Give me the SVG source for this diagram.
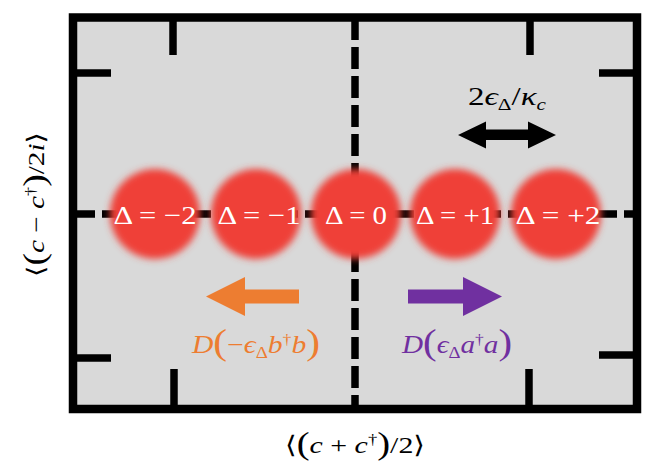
<svg xmlns="http://www.w3.org/2000/svg" width="664" height="475" viewBox="0 0 664 475">
<style>
.ln{stroke:#000;stroke-width:7.5;fill:none}
.dash{stroke:#000;stroke-width:7.5;fill:none;stroke-dasharray:22 7}
.blob{fill:#ef4037;filter:url(#blur)}
.t{font-family:"Liberation Serif","DejaVu Serif",serif}
.it{font-style:italic}
.dl{fill:#fff;font-size:26px;text-anchor:middle}
</style>
<defs>
<filter id="blur" x="-25%" y="-25%" width="150%" height="150%"><feGaussianBlur stdDeviation="3.5"/></filter>
</defs>
<rect x="0" y="0" width="664" height="475" fill="#fff"/>
<g id="plot">
<rect x="73" y="17.5" width="564" height="391.5" fill="#d9d9d9"/>
<line class="dash" x1="355" y1="18" x2="355" y2="409"/>
<line class="dash" x1="73" y1="214" x2="637" y2="214"/>
<g id="ticks">
<line class="ln" x1="173" y1="20" x2="173" y2="55"/>
<line class="ln" x1="530" y1="20" x2="530" y2="55"/>
<line class="ln" x1="174" y1="369" x2="174" y2="407"/>
<line class="ln" x1="529" y1="369" x2="529" y2="407"/>
<line class="ln" x1="75" y1="73" x2="111" y2="73"/>
<line class="ln" x1="75" y1="358" x2="111" y2="358"/>
<line class="ln" x1="599" y1="73" x2="635" y2="73"/>
<line class="ln" x1="599" y1="355" x2="635" y2="355"/>
</g>
<rect x="73" y="17.5" width="564" height="391.5" fill="none" stroke="#000" stroke-width="8.5"/>
</g>
<g id="state-m2"><circle class="blob" cx="155" cy="214" r="45"/><text class="t dl" x="155" y="224" textLength="83" lengthAdjust="spacingAndGlyphs">Δ = −2</text></g>
<g id="state-m1"><circle class="blob" cx="256" cy="214" r="45"/><text class="t dl" x="259" y="224" textLength="83" lengthAdjust="spacingAndGlyphs">Δ = −1</text></g>
<g id="state-0"><circle class="blob" cx="356" cy="214" r="45"/><text class="t dl" x="356" y="224" textLength="62" lengthAdjust="spacingAndGlyphs">Δ = 0</text></g>
<g id="state-p1"><circle class="blob" cx="455" cy="214" r="45"/><text class="t dl" x="455" y="224" textLength="78" lengthAdjust="spacingAndGlyphs">Δ = +1</text></g>
<g id="state-p2"><circle class="blob" cx="556" cy="214" r="45"/><text class="t dl" x="558" y="224" textLength="85" lengthAdjust="spacingAndGlyphs">Δ = +2</text></g>
<g id="connectors">
<polygon fill="#000" points="458,135 486,121.5 486,129.5 528,129.5 528,121.5 556,135 528,148.5 528,140 486,140 486,148.5"/>
<polygon fill="#ed7d31" points="206,296.5 245,277 245,289.5 299,289.5 299,303.5 245,303.5 245,316"/>
<polygon fill="#7030a0" points="408,289.5 463,289.5 463,277 502,296.5 463,316 463,303.5 408,303.5"/>
</g>
<g id="labels">
<text class="t" x="507" y="105" font-size="25" text-anchor="middle" textLength="78" lengthAdjust="spacingAndGlyphs">2<tspan class="it">ϵ</tspan><tspan font-size="16" dy="5">Δ</tspan><tspan dy="-5">/</tspan><tspan class="it">κ</tspan><tspan class="it" font-size="16" dy="5">c</tspan></text>
<text class="t" x="256" y="353" font-size="25" fill="#ed7d31" text-anchor="middle" textLength="128" lengthAdjust="spacingAndGlyphs"><tspan class="it">D</tspan><tspan font-size="35" dy="1">(</tspan><tspan dy="-1">−</tspan><tspan class="it">ϵ</tspan><tspan font-size="16" dy="5">Δ</tspan><tspan class="it" dy="-5">b</tspan><tspan font-size="15" dy="-9">†</tspan><tspan class="it" dy="9">b</tspan><tspan font-size="35" dy="1">)</tspan></text>
<text class="t" x="457" y="353" font-size="25" fill="#7030a0" text-anchor="middle" textLength="110" lengthAdjust="spacingAndGlyphs"><tspan class="it">D</tspan><tspan font-size="35" dy="1">(</tspan><tspan class="it" dy="-1">ϵ</tspan><tspan font-size="16" dy="5">Δ</tspan><tspan class="it" dy="-5">a</tspan><tspan font-size="15" dy="-9">†</tspan><tspan class="it" dy="9">a</tspan><tspan font-size="35" dy="1">)</tspan></text>
<text class="t" x="355" y="453" font-size="24" text-anchor="middle" textLength="140" lengthAdjust="spacingAndGlyphs">⟨<tspan font-size="31" dy="1">(</tspan><tspan class="it" dy="-1">c</tspan> + <tspan class="it">c</tspan><tspan font-size="15" dy="-9">†</tspan><tspan font-size="31" dy="10">)</tspan><tspan dy="-1">/2⟩</tspan></text>
<text class="t" transform="translate(44,204.5) rotate(-90)" x="0" y="0" font-size="24" text-anchor="middle" textLength="145" lengthAdjust="spacingAndGlyphs">⟨<tspan font-size="31" dy="1">(</tspan><tspan class="it" dy="-1">c</tspan> − <tspan class="it">c</tspan><tspan font-size="15" dy="-9">†</tspan><tspan font-size="31" dy="10">)</tspan><tspan dy="-1">/2</tspan><tspan class="it">i</tspan>⟩</text>
</g>
</svg>
